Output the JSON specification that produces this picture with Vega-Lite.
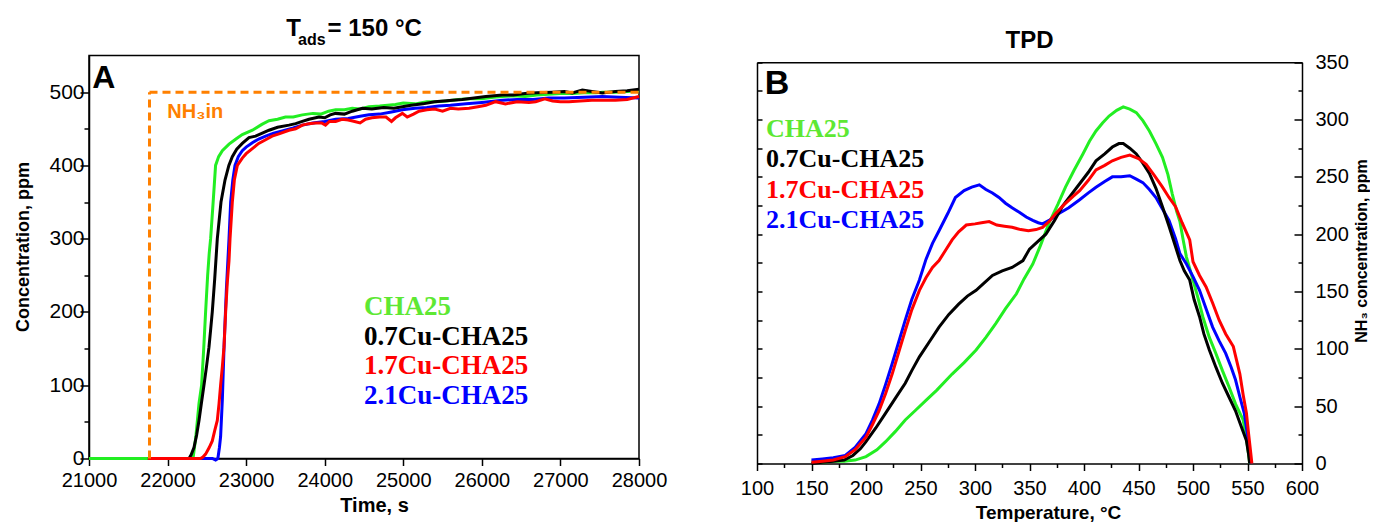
{
  "$schema": "https://vega.github.io/schema/vega-lite/v6.json",
  "padding": {"left": 14, "top": 15.5, "right": 0, "bottom": 0},
  "autosize": {"type": "pad"},
  "background": "white",
  "config": {
    "view": {"stroke": "black", "strokeWidth": 1.5},
    "font": "Liberation Sans",
    "axis": {"domainColor": "black", "domainWidth": 1.5, "tickColor": "black", "tickWidth": 1.5, "labelColor": "black", "labelFont": "Liberation Sans", "titleFont": "Liberation Sans", "titleFontWeight": "bold", "titleColor": "black", "grid": false, "labelOverlap": false, "labelFlush": false},
    "title": {"font": "Liberation Sans", "fontWeight": "bold", "color": "black"}
  },
  "spacing": 72,
  "resolve": {"scale": {"color": "independent"}, "legend": {"color": "independent"}},
  "hconcat": [
    {
      "width": 550,
      "height": 403,
      "title": {"text": "T\u00a0\u00a0\u00a0\u00a0= 150 °C", "subtitle": "ads\u00a0\u00a0\u00a0\u00a0\u00a0\u00a0\u00a0\u00a0\u00a0\u00a0\u00a0\u00a0\u00a0\u00a0\u00a0\u00a0\u00a0\u00a0\u00a0\u200b", "fontSize": 24, "subtitleFontSize": 16, "subtitleFontWeight": "bold", "subtitleColor": "black", "subtitleFont": "Liberation Sans", "subtitlePadding": -9, "dx": -10, "offset": 8},
      "layer": [
        {
          "data": {"values": [
            {"sample": "CHA25", "t": 21000, "c": 0}, {"sample": "CHA25", "t": 21750, "c": 0}, {"sample": "CHA25", "t": 22324, "c": 0}, {"sample": "CHA25", "t": 22360, "c": 30}, {"sample": "CHA25", "t": 22400, "c": 75}, {"sample": "CHA25", "t": 22433, "c": 100}, {"sample": "CHA25", "t": 22460, "c": 150}, {"sample": "CHA25", "t": 22484, "c": 200}, {"sample": "CHA25", "t": 22510, "c": 250}, {"sample": "CHA25", "t": 22530, "c": 280}, {"sample": "CHA25", "t": 22548, "c": 300}, {"sample": "CHA25", "t": 22580, "c": 350}, {"sample": "CHA25", "t": 22611, "c": 400}, {"sample": "CHA25", "t": 22650, "c": 412}, {"sample": "CHA25", "t": 22697, "c": 420}, {"sample": "CHA25", "t": 22782, "c": 429}, {"sample": "CHA25", "t": 22870, "c": 436}, {"sample": "CHA25", "t": 22951, "c": 442}, {"sample": "CHA25", "t": 23080, "c": 448}, {"sample": "CHA25", "t": 23200, "c": 456}, {"sample": "CHA25", "t": 23291, "c": 461}, {"sample": "CHA25", "t": 23400, "c": 463}, {"sample": "CHA25", "t": 23500, "c": 466}, {"sample": "CHA25", "t": 23600, "c": 466}, {"sample": "CHA25", "t": 23715, "c": 469}, {"sample": "CHA25", "t": 23850, "c": 471}, {"sample": "CHA25", "t": 23950, "c": 470}, {"sample": "CHA25", "t": 24050, "c": 474}, {"sample": "CHA25", "t": 24139, "c": 476}, {"sample": "CHA25", "t": 24250, "c": 476}, {"sample": "CHA25", "t": 24350, "c": 478}, {"sample": "CHA25", "t": 24450, "c": 477}, {"sample": "CHA25", "t": 24563, "c": 480}, {"sample": "CHA25", "t": 24700, "c": 481}, {"sample": "CHA25", "t": 24800, "c": 482}, {"sample": "CHA25", "t": 24900, "c": 483}, {"sample": "CHA25", "t": 25000, "c": 485}, {"sample": "CHA25", "t": 25150, "c": 484}, {"sample": "CHA25", "t": 25300, "c": 487}, {"sample": "CHA25", "t": 25412, "c": 487}, {"sample": "CHA25", "t": 25550, "c": 488}, {"sample": "CHA25", "t": 25700, "c": 490}, {"sample": "CHA25", "t": 25850, "c": 491}, {"sample": "CHA25", "t": 26000, "c": 491}, {"sample": "CHA25", "t": 26150, "c": 493}, {"sample": "CHA25", "t": 26261, "c": 494}, {"sample": "CHA25", "t": 26400, "c": 495}, {"sample": "CHA25", "t": 26550, "c": 494}, {"sample": "CHA25", "t": 26700, "c": 496}, {"sample": "CHA25", "t": 26850, "c": 497}, {"sample": "CHA25", "t": 27000, "c": 498}, {"sample": "CHA25", "t": 27150, "c": 498}, {"sample": "CHA25", "t": 27300, "c": 499}, {"sample": "CHA25", "t": 27450, "c": 499}, {"sample": "CHA25", "t": 27534, "c": 500}, {"sample": "CHA25", "t": 27700, "c": 500}, {"sample": "CHA25", "t": 27850, "c": 501}, {"sample": "CHA25", "t": 28000, "c": 502},
            {"sample": "2.1Cu-CHA25", "t": 21750, "c": 0}, {"sample": "2.1Cu-CHA25", "t": 22569, "c": 0}, {"sample": "2.1Cu-CHA25", "t": 22611, "c": -2}, {"sample": "2.1Cu-CHA25", "t": 22640, "c": 0}, {"sample": "2.1Cu-CHA25", "t": 22660, "c": 15}, {"sample": "2.1Cu-CHA25", "t": 22675, "c": 30}, {"sample": "2.1Cu-CHA25", "t": 22697, "c": 80}, {"sample": "2.1Cu-CHA25", "t": 22718, "c": 150}, {"sample": "2.1Cu-CHA25", "t": 22748, "c": 230}, {"sample": "2.1Cu-CHA25", "t": 22782, "c": 300}, {"sample": "2.1Cu-CHA25", "t": 22803, "c": 350}, {"sample": "2.1Cu-CHA25", "t": 22830, "c": 380}, {"sample": "2.1Cu-CHA25", "t": 22858, "c": 400}, {"sample": "2.1Cu-CHA25", "t": 22900, "c": 412}, {"sample": "2.1Cu-CHA25", "t": 22951, "c": 420}, {"sample": "2.1Cu-CHA25", "t": 23000, "c": 425}, {"sample": "2.1Cu-CHA25", "t": 23079, "c": 431}, {"sample": "2.1Cu-CHA25", "t": 23160, "c": 436}, {"sample": "2.1Cu-CHA25", "t": 23248, "c": 440}, {"sample": "2.1Cu-CHA25", "t": 23350, "c": 444}, {"sample": "2.1Cu-CHA25", "t": 23460, "c": 447}, {"sample": "2.1Cu-CHA25", "t": 23600, "c": 451}, {"sample": "2.1Cu-CHA25", "t": 23715, "c": 455}, {"sample": "2.1Cu-CHA25", "t": 23850, "c": 458}, {"sample": "2.1Cu-CHA25", "t": 24000, "c": 460}, {"sample": "2.1Cu-CHA25", "t": 24139, "c": 463}, {"sample": "2.1Cu-CHA25", "t": 24300, "c": 464}, {"sample": "2.1Cu-CHA25", "t": 24450, "c": 467}, {"sample": "2.1Cu-CHA25", "t": 24563, "c": 469}, {"sample": "2.1Cu-CHA25", "t": 24700, "c": 470}, {"sample": "2.1Cu-CHA25", "t": 24850, "c": 473}, {"sample": "2.1Cu-CHA25", "t": 24988, "c": 476}, {"sample": "2.1Cu-CHA25", "t": 25150, "c": 478}, {"sample": "2.1Cu-CHA25", "t": 25300, "c": 479}, {"sample": "2.1Cu-CHA25", "t": 25450, "c": 481}, {"sample": "2.1Cu-CHA25", "t": 25600, "c": 482}, {"sample": "2.1Cu-CHA25", "t": 25800, "c": 484}, {"sample": "2.1Cu-CHA25", "t": 26000, "c": 486}, {"sample": "2.1Cu-CHA25", "t": 26261, "c": 489}, {"sample": "2.1Cu-CHA25", "t": 26450, "c": 490}, {"sample": "2.1Cu-CHA25", "t": 26650, "c": 490}, {"sample": "2.1Cu-CHA25", "t": 26850, "c": 492}, {"sample": "2.1Cu-CHA25", "t": 27050, "c": 492}, {"sample": "2.1Cu-CHA25", "t": 27300, "c": 493}, {"sample": "2.1Cu-CHA25", "t": 27534, "c": 494}, {"sample": "2.1Cu-CHA25", "t": 27750, "c": 493}, {"sample": "2.1Cu-CHA25", "t": 28000, "c": 492},
            {"sample": "0.7Cu-CHA25", "t": 21750, "c": 0}, {"sample": "0.7Cu-CHA25", "t": 22273, "c": 0}, {"sample": "0.7Cu-CHA25", "t": 22300, "c": 5}, {"sample": "0.7Cu-CHA25", "t": 22336, "c": 15}, {"sample": "0.7Cu-CHA25", "t": 22370, "c": 32}, {"sample": "0.7Cu-CHA25", "t": 22400, "c": 52}, {"sample": "0.7Cu-CHA25", "t": 22430, "c": 75}, {"sample": "0.7Cu-CHA25", "t": 22463, "c": 100}, {"sample": "0.7Cu-CHA25", "t": 22495, "c": 125}, {"sample": "0.7Cu-CHA25", "t": 22527, "c": 152}, {"sample": "0.7Cu-CHA25", "t": 22550, "c": 178}, {"sample": "0.7Cu-CHA25", "t": 22569, "c": 200}, {"sample": "0.7Cu-CHA25", "t": 22600, "c": 245}, {"sample": "0.7Cu-CHA25", "t": 22633, "c": 300}, {"sample": "0.7Cu-CHA25", "t": 22680, "c": 350}, {"sample": "0.7Cu-CHA25", "t": 22731, "c": 380}, {"sample": "0.7Cu-CHA25", "t": 22780, "c": 400}, {"sample": "0.7Cu-CHA25", "t": 22824, "c": 412}, {"sample": "0.7Cu-CHA25", "t": 22880, "c": 422}, {"sample": "0.7Cu-CHA25", "t": 22951, "c": 430}, {"sample": "0.7Cu-CHA25", "t": 23036, "c": 438}, {"sample": "0.7Cu-CHA25", "t": 23120, "c": 440}, {"sample": "0.7Cu-CHA25", "t": 23206, "c": 444}, {"sample": "0.7Cu-CHA25", "t": 23291, "c": 448}, {"sample": "0.7Cu-CHA25", "t": 23400, "c": 452}, {"sample": "0.7Cu-CHA25", "t": 23545, "c": 455}, {"sample": "0.7Cu-CHA25", "t": 23630, "c": 457}, {"sample": "0.7Cu-CHA25", "t": 23715, "c": 460}, {"sample": "0.7Cu-CHA25", "t": 23800, "c": 463}, {"sample": "0.7Cu-CHA25", "t": 23927, "c": 466}, {"sample": "0.7Cu-CHA25", "t": 24000, "c": 465}, {"sample": "0.7Cu-CHA25", "t": 24070, "c": 469}, {"sample": "0.7Cu-CHA25", "t": 24139, "c": 471}, {"sample": "0.7Cu-CHA25", "t": 24250, "c": 470}, {"sample": "0.7Cu-CHA25", "t": 24350, "c": 474}, {"sample": "0.7Cu-CHA25", "t": 24479, "c": 478}, {"sample": "0.7Cu-CHA25", "t": 24600, "c": 477}, {"sample": "0.7Cu-CHA25", "t": 24750, "c": 479}, {"sample": "0.7Cu-CHA25", "t": 24880, "c": 478}, {"sample": "0.7Cu-CHA25", "t": 24988, "c": 480}, {"sample": "0.7Cu-CHA25", "t": 25100, "c": 482}, {"sample": "0.7Cu-CHA25", "t": 25250, "c": 484}, {"sample": "0.7Cu-CHA25", "t": 25400, "c": 487}, {"sample": "0.7Cu-CHA25", "t": 25624, "c": 489}, {"sample": "0.7Cu-CHA25", "t": 25750, "c": 490}, {"sample": "0.7Cu-CHA25", "t": 25900, "c": 492}, {"sample": "0.7Cu-CHA25", "t": 26050, "c": 494}, {"sample": "0.7Cu-CHA25", "t": 26261, "c": 496}, {"sample": "0.7Cu-CHA25", "t": 26400, "c": 496}, {"sample": "0.7Cu-CHA25", "t": 26550, "c": 498}, {"sample": "0.7Cu-CHA25", "t": 26700, "c": 499}, {"sample": "0.7Cu-CHA25", "t": 26897, "c": 500}, {"sample": "0.7Cu-CHA25", "t": 27050, "c": 501}, {"sample": "0.7Cu-CHA25", "t": 27150, "c": 499}, {"sample": "0.7Cu-CHA25", "t": 27279, "c": 503}, {"sample": "0.7Cu-CHA25", "t": 27400, "c": 501}, {"sample": "0.7Cu-CHA25", "t": 27534, "c": 499}, {"sample": "0.7Cu-CHA25", "t": 27700, "c": 501}, {"sample": "0.7Cu-CHA25", "t": 27850, "c": 502}, {"sample": "0.7Cu-CHA25", "t": 28000, "c": 504},
            {"sample": "1.7Cu-CHA25", "t": 21750, "c": 0}, {"sample": "1.7Cu-CHA25", "t": 22420, "c": 0}, {"sample": "1.7Cu-CHA25", "t": 22450, "c": 2}, {"sample": "1.7Cu-CHA25", "t": 22484, "c": 6}, {"sample": "1.7Cu-CHA25", "t": 22530, "c": 15}, {"sample": "1.7Cu-CHA25", "t": 22569, "c": 24}, {"sample": "1.7Cu-CHA25", "t": 22600, "c": 38}, {"sample": "1.7Cu-CHA25", "t": 22633, "c": 52}, {"sample": "1.7Cu-CHA25", "t": 22655, "c": 75}, {"sample": "1.7Cu-CHA25", "t": 22675, "c": 100}, {"sample": "1.7Cu-CHA25", "t": 22697, "c": 125}, {"sample": "1.7Cu-CHA25", "t": 22718, "c": 152}, {"sample": "1.7Cu-CHA25", "t": 22739, "c": 200}, {"sample": "1.7Cu-CHA25", "t": 22760, "c": 240}, {"sample": "1.7Cu-CHA25", "t": 22782, "c": 270}, {"sample": "1.7Cu-CHA25", "t": 22795, "c": 300}, {"sample": "1.7Cu-CHA25", "t": 22824, "c": 350}, {"sample": "1.7Cu-CHA25", "t": 22850, "c": 380}, {"sample": "1.7Cu-CHA25", "t": 22888, "c": 400}, {"sample": "1.7Cu-CHA25", "t": 22951, "c": 410}, {"sample": "1.7Cu-CHA25", "t": 23000, "c": 416}, {"sample": "1.7Cu-CHA25", "t": 23079, "c": 423}, {"sample": "1.7Cu-CHA25", "t": 23160, "c": 430}, {"sample": "1.7Cu-CHA25", "t": 23248, "c": 435}, {"sample": "1.7Cu-CHA25", "t": 23330, "c": 440}, {"sample": "1.7Cu-CHA25", "t": 23418, "c": 443}, {"sample": "1.7Cu-CHA25", "t": 23545, "c": 448}, {"sample": "1.7Cu-CHA25", "t": 23630, "c": 450}, {"sample": "1.7Cu-CHA25", "t": 23715, "c": 455}, {"sample": "1.7Cu-CHA25", "t": 23800, "c": 457}, {"sample": "1.7Cu-CHA25", "t": 23880, "c": 458}, {"sample": "1.7Cu-CHA25", "t": 23960, "c": 458}, {"sample": "1.7Cu-CHA25", "t": 24010, "c": 455}, {"sample": "1.7Cu-CHA25", "t": 24060, "c": 460}, {"sample": "1.7Cu-CHA25", "t": 24139, "c": 460}, {"sample": "1.7Cu-CHA25", "t": 24220, "c": 463}, {"sample": "1.7Cu-CHA25", "t": 24300, "c": 462}, {"sample": "1.7Cu-CHA25", "t": 24380, "c": 460}, {"sample": "1.7Cu-CHA25", "t": 24450, "c": 458}, {"sample": "1.7Cu-CHA25", "t": 24520, "c": 463}, {"sample": "1.7Cu-CHA25", "t": 24600, "c": 465}, {"sample": "1.7Cu-CHA25", "t": 24700, "c": 466}, {"sample": "1.7Cu-CHA25", "t": 24780, "c": 466}, {"sample": "1.7Cu-CHA25", "t": 24850, "c": 460}, {"sample": "1.7Cu-CHA25", "t": 24900, "c": 465}, {"sample": "1.7Cu-CHA25", "t": 24988, "c": 471}, {"sample": "1.7Cu-CHA25", "t": 25050, "c": 466}, {"sample": "1.7Cu-CHA25", "t": 25130, "c": 470}, {"sample": "1.7Cu-CHA25", "t": 25200, "c": 474}, {"sample": "1.7Cu-CHA25", "t": 25300, "c": 476}, {"sample": "1.7Cu-CHA25", "t": 25400, "c": 477}, {"sample": "1.7Cu-CHA25", "t": 25500, "c": 474}, {"sample": "1.7Cu-CHA25", "t": 25600, "c": 478}, {"sample": "1.7Cu-CHA25", "t": 25700, "c": 477}, {"sample": "1.7Cu-CHA25", "t": 25837, "c": 478}, {"sample": "1.7Cu-CHA25", "t": 25950, "c": 480}, {"sample": "1.7Cu-CHA25", "t": 26050, "c": 482}, {"sample": "1.7Cu-CHA25", "t": 26176, "c": 487}, {"sample": "1.7Cu-CHA25", "t": 26300, "c": 484}, {"sample": "1.7Cu-CHA25", "t": 26450, "c": 487}, {"sample": "1.7Cu-CHA25", "t": 26600, "c": 486}, {"sample": "1.7Cu-CHA25", "t": 26685, "c": 487}, {"sample": "1.7Cu-CHA25", "t": 26800, "c": 491}, {"sample": "1.7Cu-CHA25", "t": 26900, "c": 488}, {"sample": "1.7Cu-CHA25", "t": 27000, "c": 487}, {"sample": "1.7Cu-CHA25", "t": 27109, "c": 487}, {"sample": "1.7Cu-CHA25", "t": 27250, "c": 488}, {"sample": "1.7Cu-CHA25", "t": 27400, "c": 489}, {"sample": "1.7Cu-CHA25", "t": 27534, "c": 489}, {"sample": "1.7Cu-CHA25", "t": 27700, "c": 489}, {"sample": "1.7Cu-CHA25", "t": 27850, "c": 490}, {"sample": "1.7Cu-CHA25", "t": 28000, "c": 494}
          ]},
          "mark": {"type": "line", "strokeWidth": 3},
          "encoding": {
            "x": {"field": "t", "type": "quantitative", "scale": {"domain": [21000, 28000], "nice": false},
              "axis": {"title": "Time, s", "values": [21000, 21500, 22000, 22500, 23000, 23500, 24000, 24500, 25000, 25500, 26000, 26500, 27000, 27500, 28000], "labelExpr": "datum.value % 1000 === 0 ? format(datum.value, 'd') : ''", "tickSize": {"condition": {"test": "datum.value % 1000 === 0", "value": 7}, "value": 4}, "labelFontSize": 20, "labelPadding": 5, "titleFontSize": 20, "titlePadding": 5, "titleX": 285}},
            "y": {"field": "c", "type": "quantitative", "scale": {"domain": [0, 550], "nice": false},
              "axis": {"title": "Concentration, ppm", "values": [0, 50, 100, 150, 200, 250, 300, 350, 400, 450, 500], "labelExpr": "datum.value % 100 === 0 ? datum.label : ''", "tickSize": {"condition": {"test": "datum.value % 100 === 0", "value": 9}, "value": 5}, "labelFontSize": 21, "labelPadding": -4, "titleFontSize": 18, "titlePadding": 16, "titleY": 191}},
            "color": {"field": "sample", "type": "nominal",
              "scale": {"domain": ["CHA25", "0.7Cu-CHA25", "1.7Cu-CHA25", "2.1Cu-CHA25"], "range": ["#22ee22", "#000000", "#ff0000", "#0000ff"]},
              "legend": {"orient": "none", "legendX": 248, "legendY": 238, "title": null, "labelFont": "Liberation Serif", "labelFontWeight": "bold", "labelFontSize": 27, "labelLimit": 400, "symbolSize": 0, "symbolStrokeWidth": 0, "symbolOpacity": 0, "labelOffset": 0, "rowPadding": 1.5,
                "encode": {"labels": {"update": {"fill": {"signal": "datum.value === 'CHA25' ? '#5ee833' : datum.value === '0.7Cu-CHA25' ? '#000000' : datum.value === '1.7Cu-CHA25' ? '#ff0000' : '#0000ff'"}}}}}}
          }
        },
        {
          "data": {"values": [{"t": 21770, "c": 0, "t2": 21770, "c2": 500}, {"t": 21770, "c": 500, "t2": 28000, "c2": 500}]},
          "mark": {"type": "rule", "color": "#ff8000", "strokeWidth": 3, "strokeDash": [8, 5]},
          "encoding": {"x": {"field": "t", "type": "quantitative"}, "x2": {"field": "t2"}, "y": {"field": "c", "type": "quantitative"}, "y2": {"field": "c2"}}
        },
        {
          "data": {"values": [{}]},
          "mark": {"type": "text", "text": "A", "fontSize": 32, "fontWeight": "bold", "align": "left", "baseline": "alphabetic", "font": "Liberation Sans", "color": "black"},
          "encoding": {"x": {"datum": 21040}, "y": {"datum": 505}}
        },
        {
          "data": {"values": [{}]},
          "mark": {"type": "text", "text": "NH₃in", "fontSize": 20, "fontWeight": "bold", "align": "left", "baseline": "alphabetic", "font": "Liberation Sans", "color": "#ff8000"},
          "encoding": {"x": {"datum": 21997}, "y": {"datum": 465}}
        }
      ]
    },
    {
      "width": 545,
      "height": 408,
      "view": {"stroke": null},
      "title": {"text": "TPD", "fontSize": 24, "offset": -1},
      "resolve": {"axis": {"y": "independent", "x": "independent"}},
      "layer": [
        {
          "data": {"values": [
            {"sample": "CHA25", "T": 150, "v": 2}, {"sample": "CHA25", "T": 160, "v": 1}, {"sample": "CHA25", "T": 170, "v": 2}, {"sample": "CHA25", "T": 180, "v": 2}, {"sample": "CHA25", "T": 190, "v": 3}, {"sample": "CHA25", "T": 200, "v": 6}, {"sample": "CHA25", "T": 210, "v": 12}, {"sample": "CHA25", "T": 218, "v": 19}, {"sample": "CHA25", "T": 227, "v": 28}, {"sample": "CHA25", "T": 236, "v": 38}, {"sample": "CHA25", "T": 245, "v": 46}, {"sample": "CHA25", "T": 255, "v": 55}, {"sample": "CHA25", "T": 265, "v": 64}, {"sample": "CHA25", "T": 279, "v": 78}, {"sample": "CHA25", "T": 290, "v": 88}, {"sample": "CHA25", "T": 301, "v": 99}, {"sample": "CHA25", "T": 310, "v": 110}, {"sample": "CHA25", "T": 319, "v": 122}, {"sample": "CHA25", "T": 328, "v": 135}, {"sample": "CHA25", "T": 338, "v": 148}, {"sample": "CHA25", "T": 345, "v": 161}, {"sample": "CHA25", "T": 353, "v": 174}, {"sample": "CHA25", "T": 360, "v": 190}, {"sample": "CHA25", "T": 368, "v": 210}, {"sample": "CHA25", "T": 376, "v": 226}, {"sample": "CHA25", "T": 383, "v": 241}, {"sample": "CHA25", "T": 391, "v": 256}, {"sample": "CHA25", "T": 399, "v": 270}, {"sample": "CHA25", "T": 405, "v": 281}, {"sample": "CHA25", "T": 411, "v": 290}, {"sample": "CHA25", "T": 417, "v": 297}, {"sample": "CHA25", "T": 423, "v": 303}, {"sample": "CHA25", "T": 430, "v": 308}, {"sample": "CHA25", "T": 436, "v": 311}, {"sample": "CHA25", "T": 442, "v": 309}, {"sample": "CHA25", "T": 448, "v": 306}, {"sample": "CHA25", "T": 454, "v": 299}, {"sample": "CHA25", "T": 460, "v": 290}, {"sample": "CHA25", "T": 466, "v": 279}, {"sample": "CHA25", "T": 472, "v": 267}, {"sample": "CHA25", "T": 477, "v": 252}, {"sample": "CHA25", "T": 481, "v": 235}, {"sample": "CHA25", "T": 485, "v": 220}, {"sample": "CHA25", "T": 488, "v": 211}, {"sample": "CHA25", "T": 491, "v": 195}, {"sample": "CHA25", "T": 494, "v": 180}, {"sample": "CHA25", "T": 500, "v": 160}, {"sample": "CHA25", "T": 505, "v": 143}, {"sample": "CHA25", "T": 509, "v": 128}, {"sample": "CHA25", "T": 515, "v": 110}, {"sample": "CHA25", "T": 521, "v": 96}, {"sample": "CHA25", "T": 527, "v": 81}, {"sample": "CHA25", "T": 533, "v": 67}, {"sample": "CHA25", "T": 539, "v": 52}, {"sample": "CHA25", "T": 546, "v": 38}, {"sample": "CHA25", "T": 549, "v": 22}, {"sample": "CHA25", "T": 551, "v": 8}, {"sample": "CHA25", "T": 552, "v": 0},
            {"sample": "2.1Cu-CHA25", "T": 150, "v": 3}, {"sample": "2.1Cu-CHA25", "T": 160, "v": 4}, {"sample": "2.1Cu-CHA25", "T": 170, "v": 5}, {"sample": "2.1Cu-CHA25", "T": 181, "v": 7}, {"sample": "2.1Cu-CHA25", "T": 190, "v": 14}, {"sample": "2.1Cu-CHA25", "T": 200, "v": 26}, {"sample": "2.1Cu-CHA25", "T": 206, "v": 38}, {"sample": "2.1Cu-CHA25", "T": 212, "v": 52}, {"sample": "2.1Cu-CHA25", "T": 218, "v": 69}, {"sample": "2.1Cu-CHA25", "T": 224, "v": 87}, {"sample": "2.1Cu-CHA25", "T": 230, "v": 106}, {"sample": "2.1Cu-CHA25", "T": 236, "v": 125}, {"sample": "2.1Cu-CHA25", "T": 242, "v": 143}, {"sample": "2.1Cu-CHA25", "T": 249, "v": 160}, {"sample": "2.1Cu-CHA25", "T": 255, "v": 178}, {"sample": "2.1Cu-CHA25", "T": 261, "v": 192}, {"sample": "2.1Cu-CHA25", "T": 267, "v": 203}, {"sample": "2.1Cu-CHA25", "T": 275, "v": 218}, {"sample": "2.1Cu-CHA25", "T": 282, "v": 232}, {"sample": "2.1Cu-CHA25", "T": 290, "v": 238}, {"sample": "2.1Cu-CHA25", "T": 297, "v": 241}, {"sample": "2.1Cu-CHA25", "T": 304, "v": 243}, {"sample": "2.1Cu-CHA25", "T": 310, "v": 239}, {"sample": "2.1Cu-CHA25", "T": 316, "v": 236}, {"sample": "2.1Cu-CHA25", "T": 322, "v": 232}, {"sample": "2.1Cu-CHA25", "T": 328, "v": 227}, {"sample": "2.1Cu-CHA25", "T": 334, "v": 223}, {"sample": "2.1Cu-CHA25", "T": 341, "v": 219}, {"sample": "2.1Cu-CHA25", "T": 347, "v": 215}, {"sample": "2.1Cu-CHA25", "T": 353, "v": 212}, {"sample": "2.1Cu-CHA25", "T": 358, "v": 210}, {"sample": "2.1Cu-CHA25", "T": 362, "v": 209}, {"sample": "2.1Cu-CHA25", "T": 368, "v": 212}, {"sample": "2.1Cu-CHA25", "T": 377, "v": 218}, {"sample": "2.1Cu-CHA25", "T": 386, "v": 223}, {"sample": "2.1Cu-CHA25", "T": 396, "v": 230}, {"sample": "2.1Cu-CHA25", "T": 404, "v": 236}, {"sample": "2.1Cu-CHA25", "T": 411, "v": 241}, {"sample": "2.1Cu-CHA25", "T": 419, "v": 246}, {"sample": "2.1Cu-CHA25", "T": 426, "v": 250}, {"sample": "2.1Cu-CHA25", "T": 434, "v": 250}, {"sample": "2.1Cu-CHA25", "T": 442, "v": 251}, {"sample": "2.1Cu-CHA25", "T": 448, "v": 248}, {"sample": "2.1Cu-CHA25", "T": 454, "v": 245}, {"sample": "2.1Cu-CHA25", "T": 460, "v": 239}, {"sample": "2.1Cu-CHA25", "T": 466, "v": 232}, {"sample": "2.1Cu-CHA25", "T": 472, "v": 222}, {"sample": "2.1Cu-CHA25", "T": 478, "v": 212}, {"sample": "2.1Cu-CHA25", "T": 484, "v": 196}, {"sample": "2.1Cu-CHA25", "T": 488, "v": 183}, {"sample": "2.1Cu-CHA25", "T": 494, "v": 174}, {"sample": "2.1Cu-CHA25", "T": 500, "v": 163}, {"sample": "2.1Cu-CHA25", "T": 506, "v": 151}, {"sample": "2.1Cu-CHA25", "T": 512, "v": 135}, {"sample": "2.1Cu-CHA25", "T": 518, "v": 119}, {"sample": "2.1Cu-CHA25", "T": 524, "v": 107}, {"sample": "2.1Cu-CHA25", "T": 530, "v": 96}, {"sample": "2.1Cu-CHA25", "T": 535, "v": 84}, {"sample": "2.1Cu-CHA25", "T": 539, "v": 73}, {"sample": "2.1Cu-CHA25", "T": 543, "v": 58}, {"sample": "2.1Cu-CHA25", "T": 547, "v": 44}, {"sample": "2.1Cu-CHA25", "T": 550, "v": 25}, {"sample": "2.1Cu-CHA25", "T": 552, "v": 10}, {"sample": "2.1Cu-CHA25", "T": 553, "v": 0},
            {"sample": "0.7Cu-CHA25", "T": 150, "v": 0}, {"sample": "0.7Cu-CHA25", "T": 160, "v": 1}, {"sample": "0.7Cu-CHA25", "T": 170, "v": 2}, {"sample": "0.7Cu-CHA25", "T": 180, "v": 3}, {"sample": "0.7Cu-CHA25", "T": 188, "v": 7}, {"sample": "0.7Cu-CHA25", "T": 195, "v": 13}, {"sample": "0.7Cu-CHA25", "T": 200, "v": 19}, {"sample": "0.7Cu-CHA25", "T": 209, "v": 31}, {"sample": "0.7Cu-CHA25", "T": 218, "v": 44}, {"sample": "0.7Cu-CHA25", "T": 227, "v": 57}, {"sample": "0.7Cu-CHA25", "T": 236, "v": 70}, {"sample": "0.7Cu-CHA25", "T": 242, "v": 81}, {"sample": "0.7Cu-CHA25", "T": 249, "v": 93}, {"sample": "0.7Cu-CHA25", "T": 258, "v": 106}, {"sample": "0.7Cu-CHA25", "T": 267, "v": 119}, {"sample": "0.7Cu-CHA25", "T": 276, "v": 130}, {"sample": "0.7Cu-CHA25", "T": 285, "v": 139}, {"sample": "0.7Cu-CHA25", "T": 293, "v": 146}, {"sample": "0.7Cu-CHA25", "T": 301, "v": 151}, {"sample": "0.7Cu-CHA25", "T": 308, "v": 157}, {"sample": "0.7Cu-CHA25", "T": 316, "v": 164}, {"sample": "0.7Cu-CHA25", "T": 325, "v": 168}, {"sample": "0.7Cu-CHA25", "T": 334, "v": 171}, {"sample": "0.7Cu-CHA25", "T": 344, "v": 177}, {"sample": "0.7Cu-CHA25", "T": 350, "v": 187}, {"sample": "0.7Cu-CHA25", "T": 358, "v": 194}, {"sample": "0.7Cu-CHA25", "T": 365, "v": 200}, {"sample": "0.7Cu-CHA25", "T": 373, "v": 212}, {"sample": "0.7Cu-CHA25", "T": 380, "v": 224}, {"sample": "0.7Cu-CHA25", "T": 388, "v": 234}, {"sample": "0.7Cu-CHA25", "T": 396, "v": 244}, {"sample": "0.7Cu-CHA25", "T": 404, "v": 254}, {"sample": "0.7Cu-CHA25", "T": 411, "v": 264}, {"sample": "0.7Cu-CHA25", "T": 419, "v": 270}, {"sample": "0.7Cu-CHA25", "T": 426, "v": 276}, {"sample": "0.7Cu-CHA25", "T": 432, "v": 279}, {"sample": "0.7Cu-CHA25", "T": 436, "v": 279}, {"sample": "0.7Cu-CHA25", "T": 442, "v": 275}, {"sample": "0.7Cu-CHA25", "T": 448, "v": 270}, {"sample": "0.7Cu-CHA25", "T": 454, "v": 262}, {"sample": "0.7Cu-CHA25", "T": 460, "v": 253}, {"sample": "0.7Cu-CHA25", "T": 466, "v": 240}, {"sample": "0.7Cu-CHA25", "T": 472, "v": 224}, {"sample": "0.7Cu-CHA25", "T": 478, "v": 207}, {"sample": "0.7Cu-CHA25", "T": 484, "v": 189}, {"sample": "0.7Cu-CHA25", "T": 488, "v": 177}, {"sample": "0.7Cu-CHA25", "T": 492, "v": 168}, {"sample": "0.7Cu-CHA25", "T": 497, "v": 160}, {"sample": "0.7Cu-CHA25", "T": 501, "v": 143}, {"sample": "0.7Cu-CHA25", "T": 506, "v": 128}, {"sample": "0.7Cu-CHA25", "T": 510, "v": 113}, {"sample": "0.7Cu-CHA25", "T": 515, "v": 99}, {"sample": "0.7Cu-CHA25", "T": 521, "v": 84}, {"sample": "0.7Cu-CHA25", "T": 527, "v": 70}, {"sample": "0.7Cu-CHA25", "T": 533, "v": 58}, {"sample": "0.7Cu-CHA25", "T": 539, "v": 46}, {"sample": "0.7Cu-CHA25", "T": 544, "v": 33}, {"sample": "0.7Cu-CHA25", "T": 549, "v": 20}, {"sample": "0.7Cu-CHA25", "T": 551, "v": 8}, {"sample": "0.7Cu-CHA25", "T": 552, "v": 0},
            {"sample": "1.7Cu-CHA25", "T": 150, "v": 1}, {"sample": "1.7Cu-CHA25", "T": 160, "v": 2}, {"sample": "1.7Cu-CHA25", "T": 170, "v": 3}, {"sample": "1.7Cu-CHA25", "T": 181, "v": 6}, {"sample": "1.7Cu-CHA25", "T": 190, "v": 12}, {"sample": "1.7Cu-CHA25", "T": 200, "v": 23}, {"sample": "1.7Cu-CHA25", "T": 206, "v": 34}, {"sample": "1.7Cu-CHA25", "T": 212, "v": 46}, {"sample": "1.7Cu-CHA25", "T": 218, "v": 61}, {"sample": "1.7Cu-CHA25", "T": 224, "v": 78}, {"sample": "1.7Cu-CHA25", "T": 230, "v": 97}, {"sample": "1.7Cu-CHA25", "T": 236, "v": 116}, {"sample": "1.7Cu-CHA25", "T": 242, "v": 134}, {"sample": "1.7Cu-CHA25", "T": 249, "v": 151}, {"sample": "1.7Cu-CHA25", "T": 255, "v": 162}, {"sample": "1.7Cu-CHA25", "T": 261, "v": 171}, {"sample": "1.7Cu-CHA25", "T": 267, "v": 177}, {"sample": "1.7Cu-CHA25", "T": 273, "v": 186}, {"sample": "1.7Cu-CHA25", "T": 279, "v": 195}, {"sample": "1.7Cu-CHA25", "T": 285, "v": 202}, {"sample": "1.7Cu-CHA25", "T": 292, "v": 208}, {"sample": "1.7Cu-CHA25", "T": 300, "v": 209}, {"sample": "1.7Cu-CHA25", "T": 306, "v": 210}, {"sample": "1.7Cu-CHA25", "T": 313, "v": 211}, {"sample": "1.7Cu-CHA25", "T": 320, "v": 208}, {"sample": "1.7Cu-CHA25", "T": 327, "v": 207}, {"sample": "1.7Cu-CHA25", "T": 334, "v": 206}, {"sample": "1.7Cu-CHA25", "T": 342, "v": 204}, {"sample": "1.7Cu-CHA25", "T": 349, "v": 203}, {"sample": "1.7Cu-CHA25", "T": 356, "v": 204}, {"sample": "1.7Cu-CHA25", "T": 362, "v": 206}, {"sample": "1.7Cu-CHA25", "T": 368, "v": 211}, {"sample": "1.7Cu-CHA25", "T": 374, "v": 218}, {"sample": "1.7Cu-CHA25", "T": 382, "v": 226}, {"sample": "1.7Cu-CHA25", "T": 390, "v": 233}, {"sample": "1.7Cu-CHA25", "T": 396, "v": 238}, {"sample": "1.7Cu-CHA25", "T": 404, "v": 247}, {"sample": "1.7Cu-CHA25", "T": 411, "v": 256}, {"sample": "1.7Cu-CHA25", "T": 419, "v": 260}, {"sample": "1.7Cu-CHA25", "T": 426, "v": 264}, {"sample": "1.7Cu-CHA25", "T": 434, "v": 267}, {"sample": "1.7Cu-CHA25", "T": 442, "v": 269}, {"sample": "1.7Cu-CHA25", "T": 450, "v": 266}, {"sample": "1.7Cu-CHA25", "T": 457, "v": 261}, {"sample": "1.7Cu-CHA25", "T": 464, "v": 252}, {"sample": "1.7Cu-CHA25", "T": 472, "v": 241}, {"sample": "1.7Cu-CHA25", "T": 478, "v": 232}, {"sample": "1.7Cu-CHA25", "T": 484, "v": 224}, {"sample": "1.7Cu-CHA25", "T": 490, "v": 210}, {"sample": "1.7Cu-CHA25", "T": 497, "v": 195}, {"sample": "1.7Cu-CHA25", "T": 500, "v": 176}, {"sample": "1.7Cu-CHA25", "T": 506, "v": 164}, {"sample": "1.7Cu-CHA25", "T": 512, "v": 154}, {"sample": "1.7Cu-CHA25", "T": 518, "v": 140}, {"sample": "1.7Cu-CHA25", "T": 524, "v": 125}, {"sample": "1.7Cu-CHA25", "T": 530, "v": 113}, {"sample": "1.7Cu-CHA25", "T": 537, "v": 102}, {"sample": "1.7Cu-CHA25", "T": 540, "v": 90}, {"sample": "1.7Cu-CHA25", "T": 543, "v": 78}, {"sample": "1.7Cu-CHA25", "T": 546, "v": 60}, {"sample": "1.7Cu-CHA25", "T": 549, "v": 44}, {"sample": "1.7Cu-CHA25", "T": 551, "v": 26}, {"sample": "1.7Cu-CHA25", "T": 553, "v": 9}, {"sample": "1.7Cu-CHA25", "T": 554, "v": 0}
          ]},
          "mark": {"type": "line", "strokeWidth": 3},
          "encoding": {
            "x": {"field": "T", "type": "quantitative", "scale": {"domain": [100, 600], "nice": false},
              "axis": {"title": "Temperature, °C", "values": [100, 125, 150, 175, 200, 225, 250, 275, 300, 325, 350, 375, 400, 425, 450, 475, 500, 525, 550, 575, 600], "labelExpr": "datum.value % 50 === 0 ? datum.label : ''", "tickSize": {"condition": {"test": "datum.value % 50 === 0", "value": 7}, "value": 4}, "labelFontSize": 20, "labelPadding": 8, "titleFontSize": 19, "titlePadding": 5, "titleX": 291}},
            "y": {"field": "v", "type": "quantitative", "scale": {"domain": [0, 350], "nice": false, "range": [408, 6.7]},
              "axis": {"orient": "right", "title": "NH₃ concentration, ppm", "values": [0, 25, 50, 75, 100, 125, 150, 175, 200, 225, 250, 275, 300, 325, 350], "labelExpr": "datum.value % 50 === 0 ? datum.label : ''", "tickSize": {"condition": {"test": "datum.value % 50 === 0", "value": -8}, "value": -4}, "labelFontSize": 20, "labelPadding": 21, "titleFontSize": 16, "titleAngle": 270, "titleBaseline": "top", "titlePadding": 5, "titleY": 195}},
            "color": {"field": "sample", "type": "nominal",
              "scale": {"domain": ["CHA25", "0.7Cu-CHA25", "1.7Cu-CHA25", "2.1Cu-CHA25"], "range": ["#22ee22", "#000000", "#ff0000", "#0000ff"]},
              "legend": {"orient": "none", "legendX": -17, "legendY": 60, "title": null, "labelFont": "Liberation Serif", "labelFontWeight": "bold", "labelFontSize": 26, "labelLimit": 400, "symbolSize": 0, "symbolStrokeWidth": 0, "symbolOpacity": 0, "labelOffset": 0, "rowPadding": 4.5,
                "encode": {"labels": {"update": {"fill": {"signal": "datum.value === 'CHA25' ? '#5ee833' : datum.value === '0.7Cu-CHA25' ? '#000000' : datum.value === '1.7Cu-CHA25' ? '#ff0000' : '#0000ff'"}}}}}}
          }
        },
        {
          "data": {"values": [{"T": 100, "v": 0}, {"T": 600, "v": 350}]},
          "mark": {"type": "line", "opacity": 0},
          "encoding": {
            "x": {"field": "T", "type": "quantitative", "axis": {"orient": "top", "labels": false, "ticks": false, "title": null, "offset": -6.7}},
            "y": {"field": "v", "type": "quantitative", "axis": {"orient": "left", "title": null, "labels": false, "values": [0, 25, 50, 75, 100, 125, 150, 175, 200, 225, 250, 275, 300, 325, 350], "tickSize": -5}}
          }
        },
        {
          "data": {"values": [{}]},
          "mark": {"type": "text", "text": "B", "fontSize": 34, "fontWeight": "bold", "align": "left", "baseline": "alphabetic", "font": "Liberation Sans", "color": "black"},
          "encoding": {"x": {"datum": 107.2, "axis": null}, "y": {"datum": 322.5, "axis": null}}
        }
      ]
    }
  ]
}
